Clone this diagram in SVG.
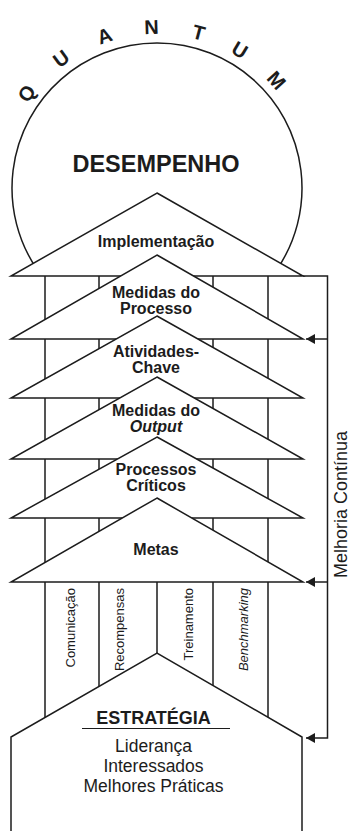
<svg xmlns="http://www.w3.org/2000/svg" width="350" height="831" viewBox="0 0 350 831">
<defs>
<style>
.ln{fill:none;stroke:#1c1c1c;stroke-width:1.5}
.tri{fill:#fff;stroke:#1c1c1c;stroke-width:1.5;stroke-linejoin:miter}
.t{font-family:"Liberation Sans",Arial,Helvetica,sans-serif;fill:#1c1c1c}
.b16{font-size:16px;font-weight:bold;text-anchor:middle}
.q{font-size:20px;font-weight:bold;text-anchor:middle}
.col{font-size:13px;text-anchor:end}
.hs{font-size:17.5px;text-anchor:middle}
</style>
<marker id="arr" markerUnits="userSpaceOnUse" markerWidth="9" markerHeight="10" viewBox="0 0 9 10" refX="9" refY="5" orient="auto"><path d="M0,0 L9,5 L0,10 z" fill="#1c1c1c"/></marker>
</defs>
<rect width="350" height="831" fill="#fff"/>

<g id="desempenho">
<path class="ln" d="M37.4 270 A145 145 0 1 1 276.6 270"/>
<g class="t q">
<text x="157" y="34" transform="rotate(-54 157 188)">Q</text>
<text x="157" y="34" transform="rotate(-36.5 157 188)">U</text>
<text x="157" y="34" transform="rotate(-19 157 188)">A</text>
<text x="157" y="34" transform="rotate(-2 157 188)">N</text>
<text x="157" y="34" transform="rotate(15 157 188)">T</text>
<text x="157" y="34" transform="rotate(31 157 188)">U</text>
<text x="157" y="34" transform="rotate(48 157 188)">M</text>
</g>
<text class="t" x="156" y="172" font-size="23.5" font-weight="bold" text-anchor="middle">DESEMPENHO</text>
</g>

<g id="colunas">
<path class="ln" d="M45 276 V737 M99 276 V737 M213 276 V737 M268 276 V737 M157 276 V653"/>
</g>

<g id="implementacao">
<polygon class="tri" points="157,193 303,276 11,276"/>
<text class="t b16" x="156" y="246.5">Implementação</text>
</g>
<g id="medidas-processo">
<polygon class="tri" points="157,255 303,339 11,339"/>
<text class="t b16" y="297.5"><tspan x="156">Medidas do</tspan><tspan x="156" dy="16">Processo</tspan></text>
</g>
<g id="atividades-chave">
<polygon class="tri" points="157,316 303,398 11,398"/>
<text class="t b16" y="356.5"><tspan x="156">Atividades-</tspan><tspan x="156" dy="16">Chave</tspan></text>
</g>
<g id="medidas-output">
<polygon class="tri" points="157,377 303,459 11,459"/>
<text class="t b16" y="416"><tspan x="156">Medidas do</tspan><tspan x="156" dy="16" font-style="italic">Output</tspan></text>
</g>
<g id="processos-criticos">
<polygon class="tri" points="157,437 303,518 11,518"/>
<text class="t b16" y="475"><tspan x="156">Processos</tspan><tspan x="156" dy="16">Críticos</tspan></text>
</g>
<g id="metas">
<polygon class="tri" points="157,498 303,582 11,582"/>
<text class="t b16" x="156" y="555">Metas</text>
</g>

<g id="pilares" class="t col">
<text transform="translate(74.5 588) rotate(-90)">Comunicação</text>
<text transform="translate(123.5 588) rotate(-90)">Recompensas</text>
<text transform="translate(192.5 588) rotate(-90)">Treinamento</text>
<text transform="translate(247.5 588) rotate(-90)" font-style="italic">Benchmarking</text>
</g>

<g id="estrategia">
<path class="tri" d="M11 831 V737 L157 653 L302 737 V831"/>
<text class="t" x="153.5" y="724" font-size="18" font-weight="bold" text-anchor="middle">ESTRATÉGIA</text>
<line x1="82" y1="728.5" x2="230" y2="728.5" stroke="#1c1c1c" stroke-width="1.2"/>
<text class="t hs" y="751.5"><tspan x="153.5">Liderança</tspan><tspan x="153.5" dy="20">Interessados</tspan><tspan x="153.5" dy="20">Melhores Práticas</tspan></text>
</g>

<g id="conectores">
<path class="ln" d="M303 276 H327.5 V738 H306" marker-end="url(#arr)"/>
<path class="ln" d="M327.5 339 H306" marker-end="url(#arr)"/>
<path class="ln" d="M327.5 582 H306" marker-end="url(#arr)"/>
</g>

<g id="melhoria">
<text class="t" transform="translate(347 504.5) rotate(-90)" font-size="18" text-anchor="middle">Melhoria Contínua</text>
</g>
</svg>
